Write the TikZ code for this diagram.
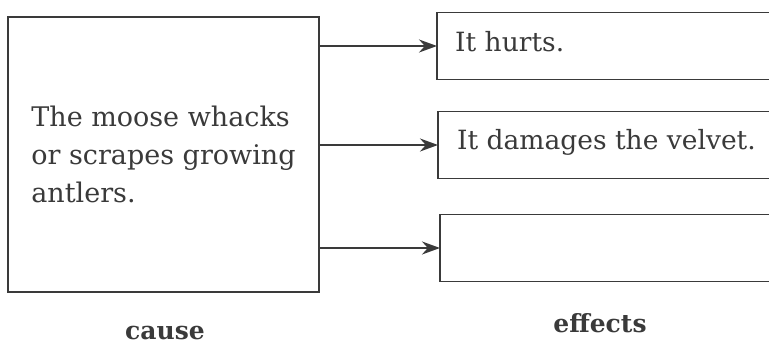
\documentclass[tikz,border=0pt]{standalone}
\usepackage{fontspec}
\setmainfont{DejaVu Serif}
\usetikzlibrary{arrows.meta}
\definecolor{ink}{HTML}{3A3A3A}
\begin{document}
\begin{tikzpicture}[x=1pt,y=-1pt,
  box/.style={draw=ink, line width=1.6pt, inner sep=0pt, outer sep=0pt},
  causebox/.style={box, minimum width=311pt, minimum height=275pt, align=left, text=ink,
    font=\fontsize{27}{38}\selectfont},
  effectbox/.style={box, minimum width=340pt, minimum height=67pt, anchor=west},
  effecttext/.style={anchor=base west, text=ink, inner sep=0pt, font=\fontsize{26.5}{30}\selectfont},
  lbl/.style={anchor=base, text=ink, inner sep=0pt, font=\bfseries\fontsize{25}{30}\selectfont},
  arr/.style={draw=ink, line width=1.8pt, -{Stealth[length=18pt,width=13pt]}}
]
\useasboundingbox[fill=white] (0,0) rectangle (769,347);
\node[causebox] (cause) at (163.5,154.5) {The moose whacks\\or scrapes growing\\antlers.};
\node[effectbox] (e1) at (437,46) {};
\node[effectbox] (e2) at (438,145) {};
\node[effectbox] (e3) at (440,248) {};
\node[effecttext] (t1) at (455,52) {It hurts.};
\node[effecttext] (t2) at (457,150) {It damages the velvet.};
\draw[arr] (cause.east |- e1.west) -- (e1.west);
\draw[arr] (cause.east |- e2.west) -- (e2.west);
\draw[arr] (cause.east |- e3.west) -- (e3.west);
\node[lbl] (lc) at (165,340) {cause};
\node[lbl] (le) at (600,333) {effects};
\end{tikzpicture}
\end{document}
